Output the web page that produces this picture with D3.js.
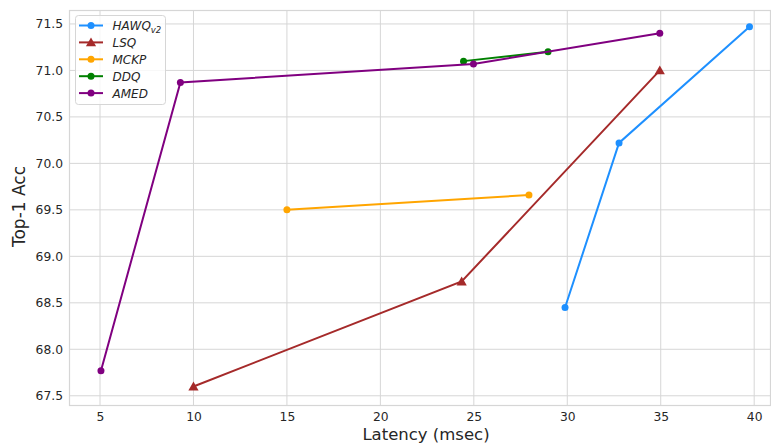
<!DOCTYPE html>
<html><head><meta charset="utf-8">
<script src="https://cdn.jsdelivr.net/npm/d3@7"></script>
<style>body{margin:0;background:#fff;} svg{display:block;font-family:"DejaVu Sans",sans-serif;}</style>
</head><body>
<svg id="c" width="771" height="443"></svg>
<script>
const hawqX = [29.88, 32.77, 39.75];
const hawqY = [68.45, 70.22, 71.47];
const lsqX = [10.0, 24.35, 34.95];
const lsqY = [67.6, 68.73, 71.0];
const mckpX = [15.0, 27.95];
const mckpY = [69.5, 69.66];
const ddqX = [24.45, 28.97];
const ddqY = [71.1, 71.2];
const amedX = [5.05, 9.3, 24.98, 34.95];
const amedY = [67.77, 70.87, 71.07, 71.4];
const xTicks = [5, 10, 15, 20, 25, 30, 35, 40];
const yTicks = [67.5, 68.0, 68.5, 69.0, 69.5, 70.0, 70.5, 71.0, 71.5];

const series = [
  {name:"HAWQ", sub:"v2", x:hawqX, y:hawqY, color:"#1E90FF", marker:"circle"},
  {name:"LSQ", x:lsqX, y:lsqY, color:"#A52A2A", marker:"triangle"},
  {name:"MCKP", x:mckpX, y:mckpY, color:"#FFA500", marker:"circle"},
  {name:"DDQ", x:ddqX, y:ddqY, color:"#008000", marker:"circle"},
  {name:"AMED", x:amedX, y:amedY, color:"#800080", marker:"circle"}
];

const svg = d3.select("#c");
const L = 69, T = 10, B = 406, R = 771;
const x = d3.scaleLinear().domain([3.34, 41.5]).range([L, L + (41.5-3.34)*18.69]);
const y = d3.scaleLinear().domain([67.39, 71.65]).range([B, T]);
const W = R - L;

svg.append("defs").append("clipPath").attr("id","clip")
  .append("rect").attr("x",L).attr("y",T).attr("width",W).attr("height",B-T);

const grid = "#d6d6d6";
const g = svg.append("g");
g.selectAll(".gx").data(xTicks).enter().append("line")
  .attr("x1",d=>x(d)).attr("x2",d=>x(d)).attr("y1",T).attr("y2",B)
  .attr("stroke",grid).attr("stroke-width",1);
g.selectAll(".gy").data(yTicks).enter().append("line")
  .attr("x1",L).attr("x2",R).attr("y1",d=>y(d)).attr("y2",d=>y(d))
  .attr("stroke",grid).attr("stroke-width",1);
g.append("rect").attr("x",L+0.5).attr("y",T+0.5).attr("width",W-1).attr("height",B-T-1)
  .attr("fill","none").attr("stroke",grid).attr("stroke-width",1.2);

const xAxis = d3.axisBottom(x).tickValues(xTicks).tickSize(0).tickPadding(6).tickFormat(d3.format("d"));
const yAxis = d3.axisLeft(y).tickValues(yTicks).tickSize(0).tickPadding(6).tickFormat(d3.format(".1f"));
const gx = svg.append("g").attr("transform",`translate(0,${B})`).call(xAxis);
const gy = svg.append("g").attr("transform",`translate(${L},0)`).call(yAxis);
[gx,gy].forEach(a=>{
  a.select(".domain").remove();
  a.selectAll("text").attr("font-size",12.3).attr("fill","#262626").attr("font-family","DejaVu Sans");
});

svg.append("text").attr("x",426).attr("y",439.5).attr("text-anchor","middle")
  .attr("font-size",16.5).attr("fill","#262626").text("Latency (msec)");
svg.append("text").attr("transform",`translate(25,206.5) rotate(-90)`).attr("text-anchor","middle")
  .attr("font-size",17).attr("fill","#262626").text("Top-1 Acc");

const plot = svg.append("g").attr("clip-path","url(#clip)");
const line = d3.line().x(d=>x(d[0])).y(d=>y(d[1]));
const tri = d3.symbol().type(d3.symbolTriangle).size(45);
series.forEach(s=>{
  const pts = s.x.map((v,i)=>[v,s.y[i]]);
  plot.append("path").attr("d",line(pts)).attr("fill","none").attr("stroke",s.color).attr("stroke-width",2);
  if (s.marker==="circle") {
    plot.selectAll(null).data(pts).enter().append("circle")
      .attr("cx",d=>x(d[0])).attr("cy",d=>y(d[1])).attr("r",3.5).attr("fill",s.color);
  } else {
    plot.selectAll(null).data(pts).enter().append("path")
      .attr("d",tri).attr("transform",d=>`translate(${x(d[0])},${y(d[1])+1})`).attr("fill",s.color);
  }
});

const lg = svg.append("g");
lg.append("rect").attr("x",75.5).attr("y",15.5).attr("width",90).attr("height",89).attr("rx",3)
  .attr("fill","#fff").attr("fill-opacity",0.8).attr("stroke","#d6d6d6").attr("stroke-width",1);
series.forEach((s,i)=>{
  const yy = 25.5 + i*16.9;
  lg.append("line").attr("x1",79).attr("x2",103).attr("y1",yy).attr("y2",yy).attr("stroke",s.color).attr("stroke-width",2);
  if (s.marker==="circle") lg.append("circle").attr("cx",91).attr("cy",yy).attr("r",3.5).attr("fill",s.color);
  else lg.append("path").attr("d",tri).attr("transform",`translate(91,${yy+1})`).attr("fill",s.color);
  const t = lg.append("text").attr("x",112.5).attr("y",yy+4.4).attr("font-size",12).attr("font-style","italic").attr("fill","#262626");
  t.append("tspan").text(s.name);
  if (s.sub) t.append("tspan").attr("font-size",8.5).attr("dy",3).text(s.sub);
});
</script>
</body></html>
